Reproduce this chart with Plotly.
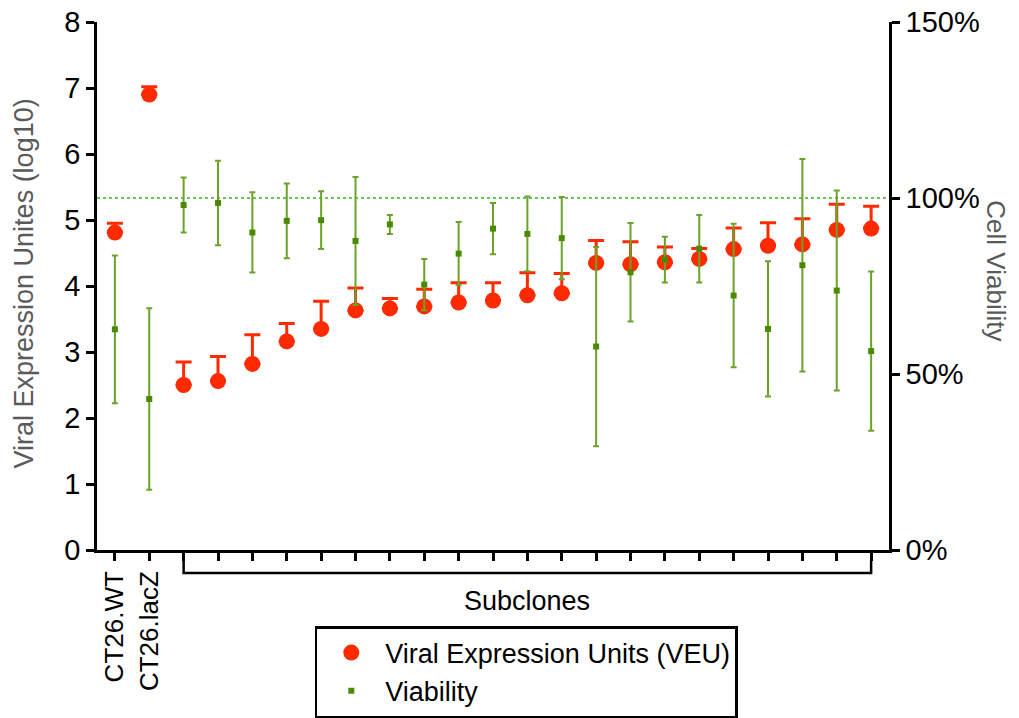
import plotly.graph_objects as go

# ---- data ----
categories = ["CT26.WT", "CT26.lacZ",
              "Subclone 1", "Subclone 2", "Subclone 3", "Subclone 4", "Subclone 5",
              "Subclone 6", "Subclone 7", "Subclone 8", "Subclone 9", "Subclone 10",
              "Subclone 11", "Subclone 12", "Subclone 13", "Subclone 14", "Subclone 15",
              "Subclone 16", "Subclone 17", "Subclone 18", "Subclone 19", "Subclone 20",
              "Subclone 21"]
tick_labels = ["CT26.WT", "CT26.lacZ"] + [""] * 21

veu = [4.81, 6.90, 2.50, 2.56, 2.82, 3.16, 3.35, 3.63, 3.66, 3.69, 3.75, 3.78,
       3.86, 3.89, 4.35, 4.33, 4.36, 4.41, 4.56, 4.61, 4.63, 4.85, 4.87]
veu_err_up = [0.14, 0.12, 0.35, 0.37, 0.44, 0.27, 0.42, 0.34, 0.15, 0.26, 0.30, 0.27,
              0.34, 0.30, 0.34, 0.34, 0.23, 0.16, 0.32, 0.35, 0.39, 0.39, 0.34]

viability = [62.7, 42.9, 98.0, 98.6, 90.2, 93.5, 93.7, 87.8, 92.5, 75.4, 84.2, 91.3,
             89.8, 88.6, 57.8, 78.9, 82.5, 85.6, 72.3, 62.8, 80.9, 73.7, 56.5]
viability_err = [21.0, 25.8, 7.8, 12.0, 11.4, 10.6, 8.2, 18.2, 2.7, 7.3, 9.0, 7.3,
                 10.6, 11.7, 28.3, 14.0, 6.5, 9.6, 20.4, 19.2, 30.2, 28.4, 22.6]

y_ticks = [0, 1, 2, 3, 4, 5, 6, 7, 8]
y2_ticks = [0, 50, 100, 150]
y2_tick_labels = ["0%", "50%", "100%", "150%"]
reference_viability = 100

group_label = "Subclones"
subclone_first = 2
subclone_last = len(categories) - 1

# ---- styling ----
FONT = "Liberation Sans, Arial, Helvetica, sans-serif"
RED = "#FF2A00"
GREEN_MK = "#4A8A00"
GREEN_ERR = "#6BA22A"
GRAY = "#5A5A5A"

x_idx = list(range(len(categories)))

fig = go.Figure()

fig.add_trace(go.Scatter(
    x=x_idx, y=veu, mode="markers", name="Viral Expression Units (VEU)",
    marker=dict(symbol="circle", size=16, color=RED),
    error_y=dict(type="data", symmetric=False, array=veu_err_up,
                 arrayminus=[0] * len(veu), color=RED, thickness=3, width=8),
    yaxis="y", hoverinfo="skip",
))

fig.add_trace(go.Scatter(
    x=x_idx, y=viability, mode="markers", name="Viability",
    marker=dict(symbol="square", size=6, color=GREEN_MK),
    error_y=dict(type="data", array=viability_err, color=GREEN_ERR,
                 thickness=2, width=3),
    yaxis="y2", hoverinfo="skip",
))

axis_common = dict(showline=True, linecolor="black", linewidth=2.5,
                   ticks="outside", ticklen=8, tickwidth=2.5, tickcolor="black",
                   showgrid=False, zeroline=False, automargin=False)

fig.update_layout(
    width=1019, height=718,
    margin=dict(l=97, r=130, t=22, b=168, pad=0, autoexpand=False),
    paper_bgcolor="white", plot_bgcolor="white",
    font=dict(family=FONT, color="black"),
    showlegend=True,
    xaxis=dict(range=[-0.52, 22.52], tickmode="array", tickvals=x_idx,
               ticktext=tick_labels, tickangle=-90,
               tickfont=dict(size=26, family=FONT, color="black"),
               **axis_common),
    yaxis=dict(range=[0, 8], tickmode="array", tickvals=y_ticks,
               ticktext=[str(v) for v in y_ticks],
               tickfont=dict(size=29, family=FONT, color="black"),
               **axis_common),
    yaxis2=dict(range=[0, 150], overlaying="y", side="right", tickmode="array",
                tickvals=y2_ticks, ticktext=y2_tick_labels,
                tickfont=dict(size=29, family=FONT, color="black"),
                **axis_common),
    legend=dict(x=0.275, y=-0.144, xanchor="left", yanchor="top",
                bordercolor="black", borderwidth=2.5, bgcolor="white",
                font=dict(size=27, family=FONT, color="black"),
                itemwidth=58, tracegroupgap=0),
    shapes=[
        dict(type="line", xref="paper", x0=0, x1=1, yref="y2",
             y0=reference_viability, y1=reference_viability,
             line=dict(color="#3DAE2B", width=1.3, dash="dot"), layer="below"),
        dict(type="path", xref="x", yref="paper",
             path=f"M {subclone_first},-0.021 L {subclone_first},-0.0436 "
                  f"L {subclone_last},-0.0436 L {subclone_last},-0.021",
             line=dict(color="black", width=2.5)),
    ],
    annotations=[
        dict(text=group_label, x=(subclone_first + subclone_last) / 2, xref="x",
             y=-0.097, yref="paper", showarrow=False, yanchor="middle",
             font=dict(size=27, family=FONT, color="black")),
        dict(text="Viral Expression Unites (log10)", x=-0.092, xref="paper",
             y=0.505, yref="paper", showarrow=False, textangle=-90,
             xanchor="center", yanchor="middle",
             font=dict(size=27, family=FONT, color=GRAY)),
        dict(text="Cell Viability", x=1.135, xref="paper",
             y=0.528, yref="paper", showarrow=False, textangle=90,
             xanchor="center", yanchor="middle",
             font=dict(size=26, family=FONT, color=GRAY)),
    ],
)

fig.write_html("out.html")
